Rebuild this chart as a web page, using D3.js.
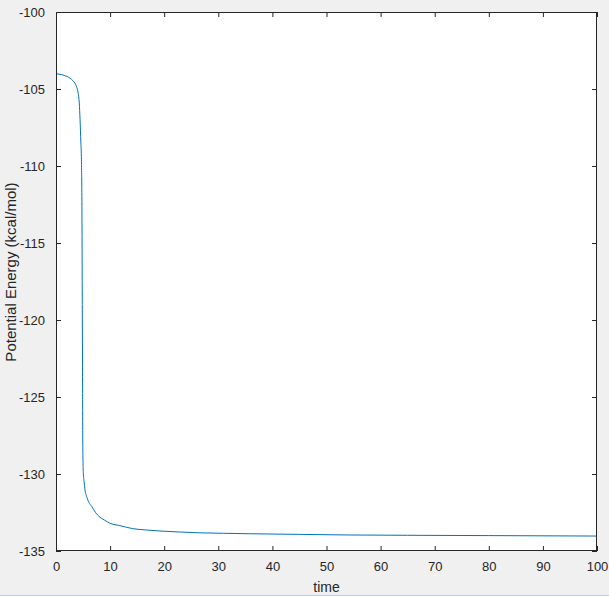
<!DOCTYPE html>
<html>
<head>
<meta charset="utf-8">
<script src="https://cdn.jsdelivr.net/npm/d3@7"></script>
<style>
html,body{margin:0;padding:0;background:#f0f0f0;}
svg{display:block;}
text{font-family:"Liberation Sans",Arial,Helvetica,sans-serif;fill:#262626;}
</style>
</head>
<body>
<svg id="chart" width="609" height="596"></svg>
<script>
const timeVals = [0, 1, 2, 2.6, 3.1, 3.5, 3.8, 4.1, 4.3, 4.45, 4.6, 4.7, 4.78, 4.82, 4.86, 4.9, 4.95, 5.05, 5.2, 5.35, 5.7, 6.1, 6.6, 7.3, 8.1, 9, 10, 11.8, 14.2, 16.5, 19.2, 23, 26.6, 31, 35.9, 45, 54, 65, 80, 100];
const energyVals = [-104.0, -104.07, -104.18, -104.3, -104.45, -104.63, -104.85, -105.28, -105.9, -107.0, -108.5, -109.6, -112, -115, -119, -123, -128, -129.9, -130.5, -131.0, -131.5, -131.85, -132.1, -132.5, -132.8, -133.0, -133.2, -133.35, -133.55, -133.63, -133.7, -133.77, -133.82, -133.85, -133.88, -133.92, -133.96, -133.98, -134.0, -134.03];
const xTicks = [0,10,20,30,40,50,60,70,80,90,100];
const yTicks = [-135,-130,-125,-120,-115,-110,-105,-100];
const xLabel = "time";
const yLabel = "Potential Energy (kcal/mol)";

const svg = d3.select("#chart");
const L = 56, T = 12, R = 597, B = 551;
const x = d3.scaleLinear().domain([0,100]).range([L,R]);
const y = d3.scaleLinear().domain([-135,-100]).range([B,T]);

svg.append("rect").attr("x",0).attr("y",0).attr("width",609).attr("height",596).attr("fill","#f0f0f0");
svg.append("rect").attr("x",L).attr("y",T).attr("width",R-L).attr("height",B-T).attr("fill","#ffffff");

const data = timeVals.map((t,i)=>({t, v: energyVals[i]}));
svg.append("path").datum(data)
  .attr("fill","none").attr("stroke","#0072BD").attr("stroke-width",1)
  .attr("d", d3.line().x(d=>x(d.t)).y(d=>y(d.v)).curve(d3.curveMonotoneX));

function styleAxis(g){
  g.select(".domain").remove();
  g.selectAll(".tick line").attr("stroke","#262626");
  g.selectAll(".tick text").attr("font-size","13px").attr("fill","#262626")
    .attr("font-family","'Liberation Sans',Arial,Helvetica,sans-serif");
}
const gx = svg.append("g").attr("transform",`translate(0,${B})`)
  .call(d3.axisBottom(x).tickValues(xTicks).tickSizeInner(-5).tickSizeOuter(0).tickPadding(11).tickFormat(d3.format("d")));
styleAxis(gx);
const gxt = svg.append("g").attr("transform",`translate(0,${T})`)
  .call(d3.axisTop(x).tickValues(xTicks).tickSizeInner(-5).tickSizeOuter(0).tickFormat(""));
styleAxis(gxt);
const gy = svg.append("g").attr("transform",`translate(${L},0)`)
  .call(d3.axisLeft(y).tickValues(yTicks).tickSizeInner(-5).tickSizeOuter(0).tickPadding(11).tickFormat(d=>d3.format("d")(d).replace("−","-")));
styleAxis(gy);
const gyr = svg.append("g").attr("transform",`translate(${R},0)`)
  .call(d3.axisRight(y).tickValues(yTicks).tickSizeInner(-5).tickSizeOuter(0).tickFormat(""));
styleAxis(gyr);

svg.append("rect").attr("x",L+0.5).attr("y",T+0.5).attr("width",R-L-1).attr("height",B-T-1)
  .attr("fill","none").attr("stroke","#262626").attr("stroke-width",1);

svg.append("text").attr("x",(L+R)/2).attr("y",592).attr("text-anchor","middle")
  .attr("font-size","14px").text(xLabel);
svg.append("text").attr("transform",`translate(16,272) rotate(-90)`).attr("text-anchor","middle")
  .attr("font-size","15px").text(yLabel);

svg.append("line").attr("x1",0).attr("x2",609).attr("y1",595.5).attr("y2",595.5)
  .attr("stroke","#b9d1ea").attr("stroke-width",1);
</script>
</body>
</html>
